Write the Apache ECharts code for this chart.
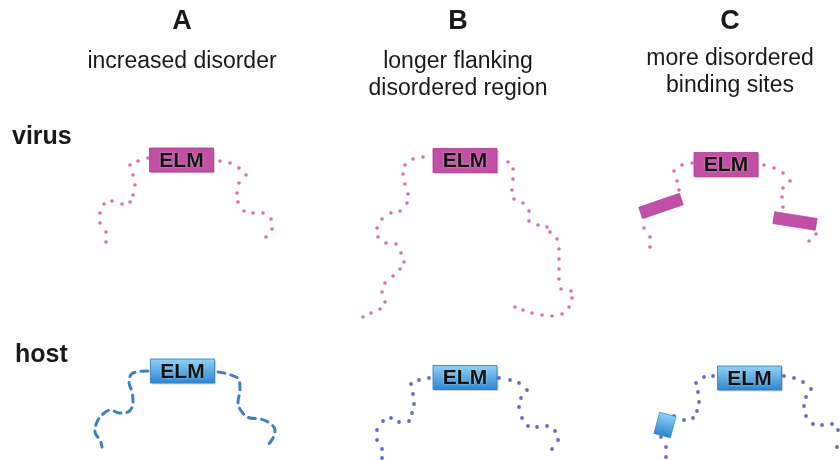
<!DOCTYPE html>
<html><head><meta charset="utf-8">
<script src="https://cdn.jsdelivr.net/npm/echarts@6/dist/echarts.min.js"></script>
<style>html,body{margin:0;padding:0;background:#fff}#c{width:840px;height:460px}</style>
</head><body><div id="c"></div>
<script>
// Panel headings and row labels
const panelLetters = ['A', 'B', 'C'];
const panelCaptions = [['increased disorder'], ['longer flanking', 'disordered region'], ['more disordered', 'binding sites']];
const rowLabels = ['virus', 'host'];
const motifLabel = 'ELM';

// Motif box centres (diagram units)
const virusBoxes = [[181.5, 160], [465, 160.5], [726, 164.5]];
const hostBoxes = [[182.5, 371], [465, 377.5], [749.5, 378]];

// Disordered chain residues (virus, magenta dots)
const virusA = [[148,158],[138,161],[130,165],[133,175],[135,185],[133,195],[130,202],[122,204],[112,201],[104,204],[100,213],[100,223],[106,232],[106,242],
  [220,161],[230,163],[239,168],[246,175],[239,183],[237,193],[238,202],[244,211],[253,213],[263,213],[271,219],[272,229],[266,237]];
const virusB = [[423,157],[413,159],[405,165],[403,174],[405,184],[408,194],[407,203],[400,211],[391,213],[382,219],[377,228],[378,237],[386,243],[396,244],[401,253],[404,262],[400,269],[393,276],[385,283],[382,292],[385,302],[380,309],[371,313],[363,317],
  [508,162],[513,169],[513,179],[512,190],[514,199],[523,203],[529,211],[529,221],[538,225],[547,227],[550,232],[557,239],[559,249],[559,259],[559,269],[559,279],[561,289],[571,291],[572,298],[569,307],[562,314],[552,316],[542,315],[532,313],[523,310],[515,307]];
const virusC = [[692,163],[682,165],[674,171],[677,181],[679,190],[644,228],[650,237],[650,247],
  [764,165],[774,168],[783,173],[790,181],[783,188],[782,197],[783,207],[816,234],[809,241]];
// Extra binding sites in C (centre x, centre y, tilt in degrees)
const virusSites = [[661, 206, -19], [795, 221, 9]];

// Host chains
const hostALeft = [[148,371],[133,373],[129,382],[132,392],[133,402],[128,412],[119,413],[111,410],[103,414],[97,422],[95,432],[100,440],[102,447]];
const hostARight = [[218,372],[228,374],[239,380],[240,390],[238,402],[242,412],[250,418],[260,419],[268,422],[275,430],[273,438],[268,445]];
const hostB = [[429,378],[419,380],[411,384],[413,394],[414,404],[412,413],[409,421],[399,422],[391,418],[383,421],[377,430],[377,440],[382,449],[382,458],
  [499,378],[510,380],[519,383],[527,390],[521,398],[519,407],[522,418],[528,426],[537,427],[547,426],[555,431],[558,440],[552,449]];
const hostC = [[713,376],[704,377],[696,383],[698,392],[699,402],[697,411],[693,418],[684,420],[674,416],[661,437],[666,447],[666,457],
  [784,376],[794,378],[803,382],[811,389],[806,397],[804,406],[806,416],[813,424],[822,425],[832,424],[838,430],[837,447]];
const hostSites = [[665, 425, 15]];

const chart = echarts.init(document.getElementById('c'));
const FONT = '"Liberation Sans", Arial, sans-serif';
const MAG = '#c24fa5', MAG_DOT = '#d24aa0', BLUE_DOT = '#3d47b2', DASH = '#3d80c6';
const blueGrad = () => new echarts.graphic.LinearGradient(0, 0, 0, 1, [{offset: 0, color: '#92d2f6'}, {offset: 1, color: '#2b86d2'}]);

function boxRender(kind) {
  return function (params, api) {
    const p = api.coord([api.value(0), api.value(1)]);
    const w = 64, h = 24;
    return {
      type: 'group', x: p[0], y: p[1],
      children: [
        {type: 'rect', shape: {x: -w / 2 + 1.5, y: -h / 2 + 1.5, width: w, height: h}, style: {fill: 'rgba(0,0,0,0.18)'}},
        {type: 'rect', shape: {x: -w / 2, y: -h / 2, width: w, height: h},
          style: {fill: kind === 'virus' ? MAG : blueGrad(), stroke: kind === 'virus' ? '#a93d8e' : '#2a78bd', lineWidth: 0.8}},
        {type: 'text', style: {text: motifLabel, x: 0, y: 1, align: 'center', verticalAlign: 'middle',
          font: 'bold 21px ' + FONT, fill: '#111', textShadowColor: 'rgba(255,255,255,0.6)', textShadowBlur: 2}}
      ]
    };
  };
}
function siteRender(kind) {
  return function (params, api) {
    const p = api.coord([api.value(0), api.value(1)]);
    const ang = api.value(2) * Math.PI / 180;
    const w = kind === 'virus' ? 43 : 17, h = kind === 'virus' ? 12 : 22;
    return {
      type: 'group', x: p[0], y: p[1], rotation: -ang,
      children: [{type: 'rect', shape: {x: -w / 2, y: -h / 2, width: w, height: h},
        style: {fill: kind === 'virus' ? MAG : blueGrad(), stroke: kind === 'virus' ? '#a93d8e' : '#2a78bd', lineWidth: 0.6}}]
    };
  };
}

const centers = [182, 458, 730];
const graphics = [];
panelLetters.forEach((L, i) => {
  graphics.push({type: 'text', x: centers[i], y: 22, style: {text: L, font: 'bold 27px ' + FONT, fill: '#1a1a1a', align: 'center', verticalAlign: 'middle'}});
  const lines = panelCaptions[i];
  const y0 = i === 2 ? 59 : 62;
  lines.forEach((t, j) => graphics.push({type: 'text', x: centers[i], y: y0 + j * 27,
    style: {text: t, font: '23px ' + FONT, fill: '#1a1a1a', align: 'center', verticalAlign: 'middle'}}));
});
graphics.push({type: 'text', x: 12, y: 137, style: {text: rowLabels[0], font: 'bold 25px ' + FONT, fill: '#1a1a1a', verticalAlign: 'middle'}});
graphics.push({type: 'text', x: 15, y: 355, style: {text: rowLabels[1], font: 'bold 25px ' + FONT, fill: '#1a1a1a', verticalAlign: 'middle'}});

const dotSeries = (data, color, size) => ({type: 'scatter', data, symbolSize: size, itemStyle: {color}, silent: true, z: 3});
const dashSeries = data => ({type: 'line', data, smooth: 0.4, showSymbol: false, silent: true, z: 2,
  lineStyle: {color: DASH, width: 3, type: [7, 6], cap: 'round'}});

chart.setOption({
  animation: false,
  grid: {left: 0, right: 0, top: 0, bottom: 0},
  xAxis: {type: 'value', min: 0, max: 840, show: false},
  yAxis: {type: 'value', min: 0, max: 460, inverse: true, show: false},
  graphic: graphics,
  series: [
    dotSeries(virusA, MAG_DOT, 3.6), dotSeries(virusB, MAG_DOT, 3.6), dotSeries(virusC, MAG_DOT, 3.6),
    dotSeries(hostB, BLUE_DOT, 3.8), dotSeries(hostC, BLUE_DOT, 3.8),
    dashSeries(hostALeft), dashSeries(hostARight),
    {type: 'custom', renderItem: siteRender('virus'), data: virusSites, z: 4, silent: true},
    {type: 'custom', renderItem: siteRender('host'), data: hostSites, z: 4, silent: true},
    {type: 'custom', renderItem: boxRender('virus'), data: virusBoxes, z: 5, silent: true},
    {type: 'custom', renderItem: boxRender('host'), data: hostBoxes, z: 5, silent: true}
  ]
});
</script></body></html>
